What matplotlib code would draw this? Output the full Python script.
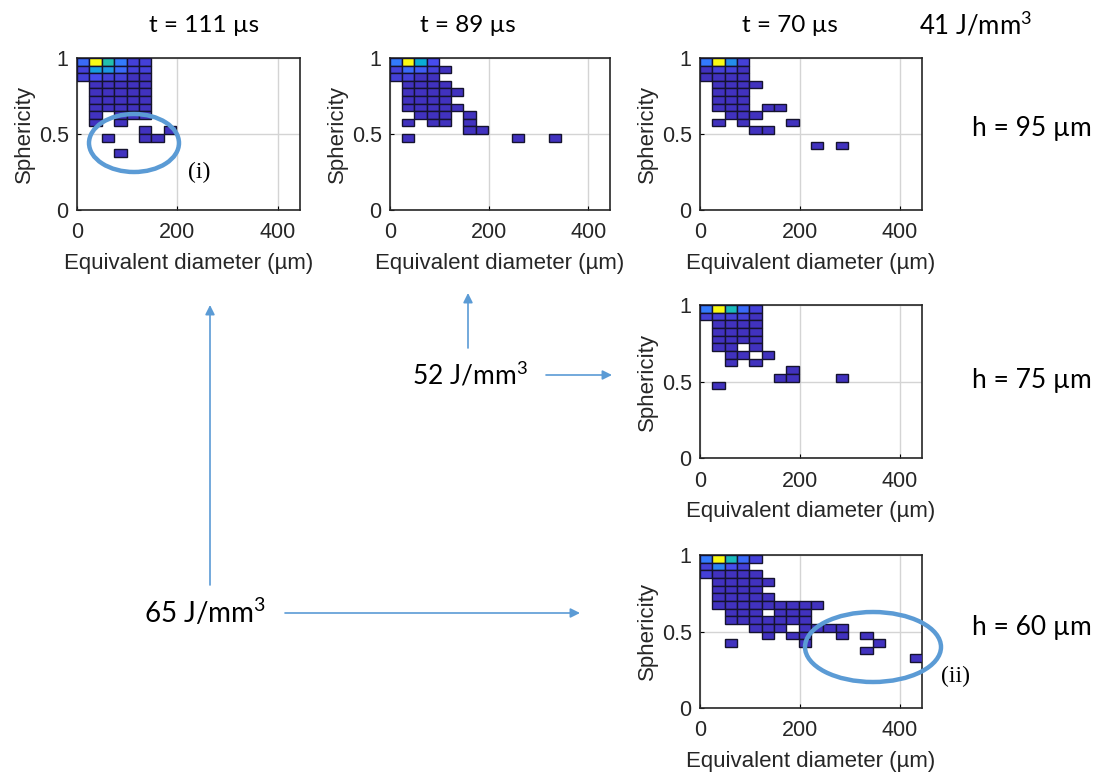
import numpy as np
import matplotlib
matplotlib.use("Agg")
import matplotlib.pyplot as plt
from matplotlib.colors import LinearSegmentedColormap, Normalize
from matplotlib.patches import Ellipse

# ---------------- data ----------------
# 2-D histogram counts: rows = sphericity bins from 1.0 downward (0.05 each),
# columns = equivalent diameter bins from 0 µm (24.67 µm each)
diam_bin_width = 24.67
sph_bin_height = 0.05

counts_111us_95um = [
    [5, 30, 15, 6, 2, 2],
    [2, 10, 9, 5, 2, 2],
    [2, 3, 2, 2, 1, 1],
    [0, 1, 1, 1, 1, 1],
    [0, 1, 1, 1, 1, 1],
    [0, 1, 1, 1, 1, 1],
    [0, 1, 1, 1, 1, 1],
    [0, 1, 0, 1, 1, 1],
    [0, 1, 0, 1, 0, 0],
    [0, 0, 0, 0, 0, 1, 0, 1],
    [0, 0, 1, 0, 0, 1, 1],
    [0],
    [0, 0, 0, 1],
]
counts_89us_95um = [
    [6, 30, 12, 3],
    [2, 5, 4, 2, 1],
    [2, 2, 1, 1],
    [0, 1, 1, 1, 1],
    [0, 1, 1, 1, 1, 1],
    [0, 1, 1, 1, 1],
    [0, 1, 1, 1, 1, 1],
    [0, 0, 1, 1, 1, 0, 1],
    [0, 1, 0, 1, 1, 0, 1],
    [0, 0, 0, 0, 0, 0, 1, 1],
    [0, 1, 0, 0, 0, 0, 0, 0, 0, 0, 1, 0, 0, 1],
]
counts_70us_95um = [
    [6, 30, 8, 2],
    [1, 2, 2, 1],
    [1, 1, 1, 1],
    [0, 1, 1, 1, 1],
    [0, 1, 1, 1],
    [0, 1, 1, 1],
    [0, 1, 1, 1, 0, 1, 1],
    [0, 0, 1, 1, 1],
    [0, 1, 0, 1, 0, 0, 0, 1],
    [0, 0, 0, 0, 1, 1],
    [0],
    [0, 0, 0, 0, 0, 0, 0, 0, 0, 1, 0, 1],
]
counts_70us_75um = [
    [6, 30, 14, 5, 2],
    [2, 2, 2, 2, 1],
    [0, 1, 1, 1, 1],
    [0, 1, 1, 1, 1],
    [0, 1, 1, 1, 1],
    [0, 1, 1, 0, 1],
    [0, 0, 1, 1, 0, 1],
    [0, 0, 1, 0, 1],
    [0, 0, 0, 0, 0, 0, 0, 1],
    [0, 0, 0, 0, 0, 0, 1, 1, 0, 0, 0, 1],
    [0, 1],
]
counts_70us_60um = [
    [6, 30, 14, 5, 2],
    [2, 7, 3, 2],
    [2, 1, 1, 1, 1],
    [0, 1, 1, 1, 1, 1],
    [0, 1, 1, 1, 1],
    [0, 1, 1, 1, 1, 1],
    [0, 1, 1, 1, 1, 1, 1, 1, 1, 1],
    [0, 0, 1, 1, 1, 0, 1, 1, 1],
    [0, 0, 1, 1, 1, 1, 1, 1, 1],
    [0, 0, 0, 0, 1, 1, 1, 0, 1, 1, 1, 1],
    [0, 0, 0, 0, 0, 1, 0, 1, 1, 0, 0, 1, 0, 1],
    [0, 0, 1, 0, 0, 0, 0, 0, 1, 0, 0, 0, 0, 0, 1],
    [0, 0, 0, 0, 0, 0, 0, 0, 0, 0, 0, 0, 0, 1],
    [0, 0, 0, 0, 0, 0, 0, 0, 0, 0, 0, 0, 0, 0, 0, 0, 0, 1],
]

x_ticks = [0, 200, 400]
y_ticks = [0, 0.5, 1]
x_label = "Equivalent diameter (µm)"
y_label = "Sphericity"
time_titles = ["t = 111 µs", "t = 89 µs", "t = 70 µs"]
hatch_labels = ["h = 95 µm", "h = 75 µm", "h = 60 µm"]
energy_labels = ["41 J/mm$^3$", "52 J/mm$^3$", "65 J/mm$^3$"]

# ---------------- style ----------------
plt.rcParams["mathtext.fontset"] = "custom"
plt.rcParams["mathtext.rm"] = "Lato"
plt.rcParams["mathtext.it"] = "Lato:italic"
plt.rcParams["mathtext.default"] = "rm"

parula = LinearSegmentedColormap.from_list("parula", [
    (0.00, (0.2422, 0.1504, 0.6603)),
    (0.10, (0.2780, 0.3000, 0.9400)),
    (0.20, (0.2000, 0.4800, 0.9900)),
    (0.30, (0.1100, 0.5900, 0.8900)),
    (0.40, (0.0400, 0.6800, 0.8400)),
    (0.50, (0.1300, 0.7500, 0.6800)),
    (0.60, (0.3100, 0.8000, 0.5100)),
    (0.70, (0.5900, 0.7900, 0.3200)),
    (0.80, (0.8700, 0.7300, 0.2300)),
    (0.90, (0.9900, 0.8200, 0.2000)),
    (1.00, (0.9769, 0.9839, 0.0805)),
])

W, H = 1100, 778
fig = plt.figure(figsize=(W / 100, H / 100), dpi=100)
label_font = "Liberation Sans"
annot_font = ["Lato", "DejaVu Sans"]
blue = "#5b9bd5"


def add_panel(left, top, width, height, counts):
    ax = fig.add_axes([left / W, 1 - (top + height) / H, width / W, height / H])
    vmax = max(max(r) for r in counts)
    norm = Normalize(0, vmax)
    lefts, bottoms, cols = [], [], []
    for ri, row in enumerate(counts):
        for ci, v in enumerate(row):
            if v > 0:
                lefts.append(ci * diam_bin_width)
                bottoms.append(1 - (ri + 1) * sph_bin_height)
                cols.append(parula(norm(v)))
    ax.bar(lefts, sph_bin_height, width=diam_bin_width, bottom=bottoms,
           align="edge", color=cols, edgecolor="#15132e", linewidth=1.0,
           zorder=3)
    ax.set_xlim(0, 18 * diam_bin_width)
    ax.set_ylim(0, 1)
    ax.set_xticks(x_ticks)
    ax.set_yticks(y_ticks)
    ax.set_yticklabels(["0", "0.5", "1"])
    ax.grid(True, color="#d4d4d4", linewidth=1.0, zorder=0)
    ax.set_axisbelow(True)
    ax.tick_params(direction="in", length=3, labelsize=15.5, pad=9,
                   top=False, right=False)
    ax.tick_params(axis="y", pad=6)
    for lab in ax.get_xticklabels() + ax.get_yticklabels():
        lab.set_fontfamily(label_font)
        lab.set_color("#262626")
    for s in ax.spines.values():
        s.set_linewidth(1.2)
        s.set_color("#262626")
    ax.set_xlabel(x_label, fontsize=16, family=label_font, color="#262626",
                  labelpad=7)
    ax.set_ylabel(y_label, fontsize=16, family=label_font, color="#262626",
                  labelpad=3)
    return ax


add_panel(77, 58, 223, 152, counts_111us_95um)
add_panel(390, 58, 220, 152, counts_89us_95um)
add_panel(700, 58, 222, 152, counts_70us_95um)
add_panel(700, 305, 222, 153, counts_70us_75um)
add_panel(700, 555, 222, 153, counts_70us_60um)

# ---------------- overlay annotations ----------------
ov = fig.add_axes([0, 0, 1, 1], zorder=20)
ov.set_xlim(0, W)
ov.set_ylim(H, 0)
ov.axis("off")
ov.patch.set_alpha(0)

for x, t in zip([204, 468, 790], time_titles):
    ov.text(x, 25, t, ha="center", va="center", fontsize=17.5, family=annot_font)
ov.text(976, 25, energy_labels[0], ha="center", va="center", fontsize=18.5,
        family=annot_font)
for y, t in zip([128, 380, 628], hatch_labels):
    ov.text(1032, y, t, ha="center", va="center", fontsize=19, family=annot_font)
ov.text(470, 375, energy_labels[1], ha="center", va="center", fontsize=19,
        family=annot_font)
ov.text(205, 612, energy_labels[2], ha="center", va="center", fontsize=20,
        family=annot_font)

ov.text(199, 172, "(i)", ha="center", va="center", fontsize=17,
        family="Liberation Serif")
ov.text(956, 676, "(ii)", ha="center", va="center", fontsize=17,
        family="Liberation Serif")

ov.add_patch(Ellipse((134, 143), 90, 58, fill=False, edgecolor=blue, lw=3.2))
ov.add_patch(Ellipse((873, 647), 136, 70, fill=False, edgecolor=blue, lw=3.2))

arrow_kw = dict(arrowstyle="-|>", color=blue, lw=1.2, mutation_scale=14,
                shrinkA=0, shrinkB=0)
ov.annotate("", xy=(210, 305), xytext=(210, 585), arrowprops=arrow_kw)
ov.annotate("", xy=(580, 613), xytext=(285, 613), arrowprops=arrow_kw)
ov.annotate("", xy=(468, 293), xytext=(468, 348), arrowprops=arrow_kw)
ov.annotate("", xy=(612, 375), xytext=(546, 375), arrowprops=arrow_kw)

fig.savefig("out.png", dpi=100, facecolor="white")
